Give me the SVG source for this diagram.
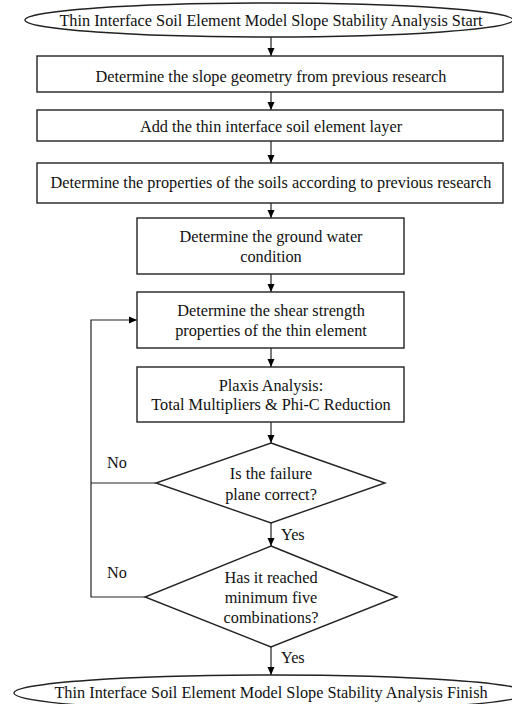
<svg xmlns="http://www.w3.org/2000/svg" width="512" height="704" viewBox="0 0 512 704">
<defs>
<marker id="ah" markerWidth="8" markerHeight="8" refX="8" refY="4" orient="auto" markerUnits="userSpaceOnUse">
<path d="M0,0.5 L8,4 L0,7.5 Z" fill="#000"/>
</marker>
<style>
.s{fill:#fff;stroke:#222;stroke-width:1.4}
.t{font-family:"Liberation Serif","Times New Roman",serif;font-size:16.3px;fill:#111;text-anchor:middle}
.c{fill:none;stroke:#222;stroke-width:1.2}
.l{font-family:"Liberation Serif","Times New Roman",serif;font-size:16.3px;fill:#111}
</style>
</defs>
<rect width="512" height="704" fill="#fff"/>
<g id="connectors">
<line class="c" x1="271" y1="37" x2="271" y2="56" marker-end="url(#ah)"/>
<line class="c" x1="271" y1="92" x2="271" y2="110" marker-end="url(#ah)"/>
<line class="c" x1="271" y1="141" x2="271" y2="163" marker-end="url(#ah)"/>
<line class="c" x1="271" y1="203" x2="271" y2="218" marker-end="url(#ah)"/>
<line class="c" x1="271" y1="274" x2="271" y2="292" marker-end="url(#ah)"/>
<line class="c" x1="271" y1="348" x2="271" y2="367" marker-end="url(#ah)"/>
<line class="c" x1="271" y1="422" x2="271" y2="443" marker-end="url(#ah)"/>
<line class="c" x1="271" y1="523" x2="271" y2="546" marker-end="url(#ah)"/>
<line class="c" x1="271" y1="647" x2="271" y2="675" marker-end="url(#ah)"/>
<polyline class="c" points="156,483 91,483"/>
<polyline class="c" points="145,597 91,597 91,320 137,320" marker-end="url(#ah)"/>
<text class="l" x="107" y="468">No</text>
<text class="l" x="107" y="578">No</text>
<text class="l" x="281" y="540">Yes</text>
<text class="l" x="281" y="663">Yes</text>
</g>
<g id="start">
<ellipse class="s" cx="269" cy="20" rx="244" ry="17"/>
<text class="t" x="271" y="26">Thin Interface Soil Element Model Slope Stability Analysis Start</text>
</g>
<g id="geometry">
<rect class="s" x="37" y="56" width="466" height="36"/>
<text class="t" x="271" y="82">Determine the slope geometry from previous research</text>
</g>
<g id="layer">
<rect class="s" x="37" y="110" width="466" height="31"/>
<text class="t" x="271" y="132">Add the thin interface soil element layer</text>
</g>
<g id="soils">
<rect class="s" x="37" y="163" width="466" height="40"/>
<text class="t" x="271" y="188">Determine the properties of the soils according to previous research</text>
</g>
<g id="water">
<rect class="s" x="137" y="218" width="267" height="56"/>
<text class="t" x="271" y="242">Determine the ground water</text>
<text class="t" x="271" y="262">condition</text>
</g>
<g id="shear">
<rect class="s" x="137" y="292" width="267" height="56"/>
<text class="t" x="271" y="316">Determine the shear strength</text>
<text class="t" x="271" y="336">properties of the thin element</text>
</g>
<g id="plaxis">
<rect class="s" x="137" y="367" width="267" height="55"/>
<text class="t" x="271" y="391">Plaxis Analysis:</text>
<text class="t" x="271" y="410">Total Multipliers &amp; Phi-C Reduction</text>
</g>
<g id="failure">
<polygon class="s" points="271,443 385,483 271,523 156,483"/>
<text class="t" x="271" y="479">Is the failure</text>
<text class="t" x="271" y="500">plane correct?</text>
</g>
<g id="combinations">
<polygon class="s" points="271,546 397,597 271,647 145,597"/>
<text class="t" x="271" y="583">Has it reached</text>
<text class="t" x="271" y="603">minimum five</text>
<text class="t" x="271" y="623">combinations?</text>
</g>
<g id="finish">
<ellipse class="s" cx="271" cy="693" rx="257" ry="18"/>
<text class="t" x="271" y="698">Thin Interface Soil Element Model Slope Stability Analysis Finish</text>
</g>
</svg>
